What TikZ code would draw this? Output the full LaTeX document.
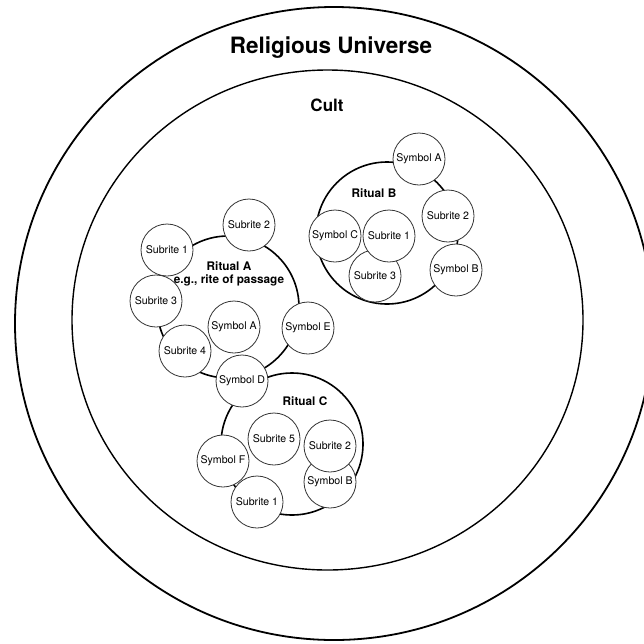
\documentclass[tikz,border=0pt]{standalone}
\usepackage{fontspec}
\setmainfont{TeX Gyre Heros}
\usepackage{tikz}
\usetikzlibrary{positioning, calc}

\tikzset{
  ritual/.style={circle, draw=black, line width=1.6pt, minimum size=142pt, inner sep=0pt},
  part/.style={circle, draw=black!80, fill=white, line width=0.8pt, minimum size=52pt, inner sep=0pt,
    font=\fontsize{10.6}{12}\selectfont},
  rlabel/.style={font=\fontsize{11.8}{13.5}\selectfont\bfseries, align=center}
}

\begin{document}
\begin{tikzpicture}[x=1pt, y=-1pt]
  \useasboundingbox (0,0) rectangle (644,643);

  % Universe and cult
  \draw[line width=1.8pt] (334,323.5) ellipse [x radius=319pt, y radius=316.5pt];
  \draw[line width=1.4pt] (327.5,320) ellipse [x radius=255.5pt, y radius=250pt];
  \node[font=\fontsize{22.5}{24}\selectfont\bfseries] (universe) at (331,48) {Religious Universe};
  \node[font=\fontsize{17}{19}\selectfont\bfseries] (cult) at (327,105) {Cult};

  % Ritual circles
  \node[ritual] (ritA) at (228,307) {};
  \node[ritual] (ritB) at (387,233) {};
  \node[ritual] (ritC) at (292,444) {};

  % Ritual A
  \node[part] (aS1) at (167,250) {Subrite 1};
  \node[part] (aS2) at (249,225) {Subrite 2};
  \node[part] (aS3) at (156,301) {Subrite 3};
  \node[part] (aS4) at (185,351) {Subrite 4};
  \node[part] (aYA) at (234,327) {Symbol A};
  \node[part] (aYE) at (308,328) {Symbol E};

  % Ritual B
  \node[part] (bYA) at (419,159) {Symbol A};
  \node[part] (bS2) at (448,216) {Subrite 2};
  \node[part] (bYB) at (456,270) {Symbol B};
  \node[part] (bYC) at (335,236) {Symbol C};
  \node[part] (bS3) at (375,276) {Subrite 3};
  \node[part] (bS1) at (389,236) {Subrite 1};

  % Ritual C
  \node[part] (cYD) at (242,381) {Symbol D};
  \node[part] (cS5) at (274,439) {Subrite 5};
  \node[part] (cYB) at (330,482) {Symbol B};
  \node[part] (cS2) at (330,446) {Subrite 2};
  \node[part] (cYF) at (223,461) {Symbol F};
  \node[part] (cS1) at (257,502) {Subrite 1};

  % Labels
  \node[rlabel] (labA) at (229,274) {Ritual A\\e.g., rite of passage};
  \node[rlabel] (labB) at (374,193) {Ritual B};
  \node[rlabel] (labC) at (305,401) {Ritual C};
\end{tikzpicture}
\end{document}
